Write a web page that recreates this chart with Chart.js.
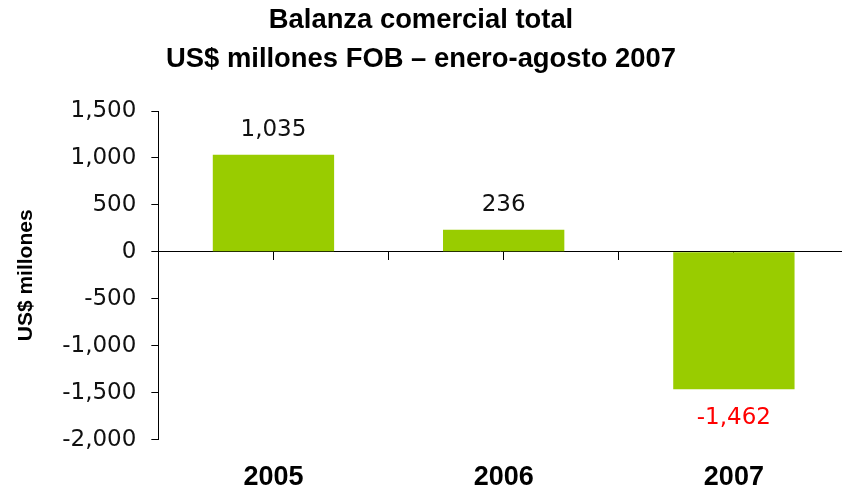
<!DOCTYPE html>
<html>
<head>
<meta charset="utf-8">
<script src="https://cdn.jsdelivr.net/npm/chart.js@4"></script>
<style>
  html, body { margin: 0; padding: 0; background: #fff; overflow: hidden; }
  canvas { display: block; }
</style>
</head>
<body>
<canvas id="balanza" width="842" height="492"></canvas>
<script>
// data
const labels = ['2005', '2006', '2007'];
const balanza = [1035, 236, -1462];
const yTicks = [-2000, -1500, -1000, -500, 0, 500, 1000, 1500];

const fmt = (v) => v.toLocaleString('en-US');

// the original plot runs a little past the right edge of the picture
const plotOverhang = 7;
const extendPlot = {
	id: 'extendPlot',
	afterLayout(chart) {
		['x', 'xMid', 'xLabels'].forEach(id => {
			const s = chart.scales[id];
			s.right += plotOverhang;
			s.width = s.right - s.left;
			s.configure();
		});
	}
};

// value labels above / below the bars
const barLabels = {
	id: 'barLabels',
	afterDatasetsDraw(chart) {
		const ctx = chart.ctx;
		const meta = chart.getDatasetMeta(0);
		ctx.save();
		ctx.font = '23px "DejaVu Sans"';
		ctx.textAlign = 'center';
		ctx.textBaseline = 'alphabetic';
		meta.data.forEach((bar, i) => {
			const v = balanza[i];
			if (v >= 0) {
				ctx.fillStyle = '#111111';
				ctx.fillText(fmt(v), bar.x, bar.y - 19);
			} else {
				ctx.fillStyle = '#FF0000';
				ctx.fillText(fmt(v), bar.x, bar.y + 35);
			}
		});
		ctx.restore();
	}
};

const config_balanza = {
	type: 'bar',
	data: {
		labels: labels,
		datasets: [
			{
				label: 'Balanza comercial',
				data: balanza,
				backgroundColor: '#99CC00',
				borderWidth: 0,
				barPercentage: 0.527,
				categoryPercentage: 1.0,
			},
		]
	},
	plugins: [extendPlot, barLabels],
	options: {
		responsive: false,
		animation: false,
		layout: {
			padding: { left: 0, right: 0, top: 0, bottom: -23.4 }
		},
		plugins: {
			legend: { display: false },
			tooltip: { enabled: false },
			title: {
				display: true,
				text: ['Balanza comercial total', 'US$ millones FOB \u2013 enero-agosto 2007'],
				color: '#000000',
				font: { family: '"Liberation Sans", Arial, sans-serif', size: 27.4, weight: 'bold', lineHeight: 39 / 27.4 },
				padding: { top: 1, bottom: 32 }
			}
		},
		scales: {
			// zero line with tick marks at category boundaries
			x: {
				type: 'category',
				position: { y: 0 },
				offset: true,
				ticks: { display: false },
				grid: {
					offset: true,
					drawOnChartArea: false,
					tickLength: 8,
					color: '#000000'
				},
				border: { display: true, color: '#000000', width: 1 }
			},
			// tick marks at category centres
			xMid: {
				type: 'category',
				position: { y: 0 },
				offset: true,
				ticks: { display: false },
				grid: {
					offset: false,
					drawOnChartArea: false,
					tickLength: 8,
					color: '#000000'
				},
				border: { display: false }
			},
			// year labels at the bottom
			xLabels: {
				type: 'category',
				position: 'bottom',
				offset: true,
				grid: { display: false, drawTicks: false },
				border: { display: false },
				ticks: {
					color: '#000000',
					padding: 23,
					font: { family: '"Liberation Sans", Arial, sans-serif', size: 27, weight: 'bold', lineHeight: 1.1 }
				}
			},
			y: {
				position: 'left',
				min: -2000,
				max: 1500,
				afterBuildTicks: (scale) => {
					scale.ticks = yTicks.map(v => ({ value: v }));
				},
				ticks: {
					color: '#111111',
					padding: 15,
					font: { family: '"DejaVu Sans", sans-serif', size: 23 },
					callback: (v) => fmt(v)
				},
				grid: {
					drawOnChartArea: false,
					tickLength: 7,
					color: '#000000'
				},
				border: { display: true, color: '#000000', width: 1 },
				title: {
					display: true,
					text: 'US$ millones',
					color: '#000000',
					font: { family: '"Liberation Sans", Arial, sans-serif', size: 21, weight: 'bold', lineHeight: 1.2 },
					padding: { top: 14, bottom: 8 }
				}
			}
		}
	}
};

const balanzaChart = new Chart(
	document.getElementById('balanza'),
	config_balanza
);
</script>
</body>
</html>
